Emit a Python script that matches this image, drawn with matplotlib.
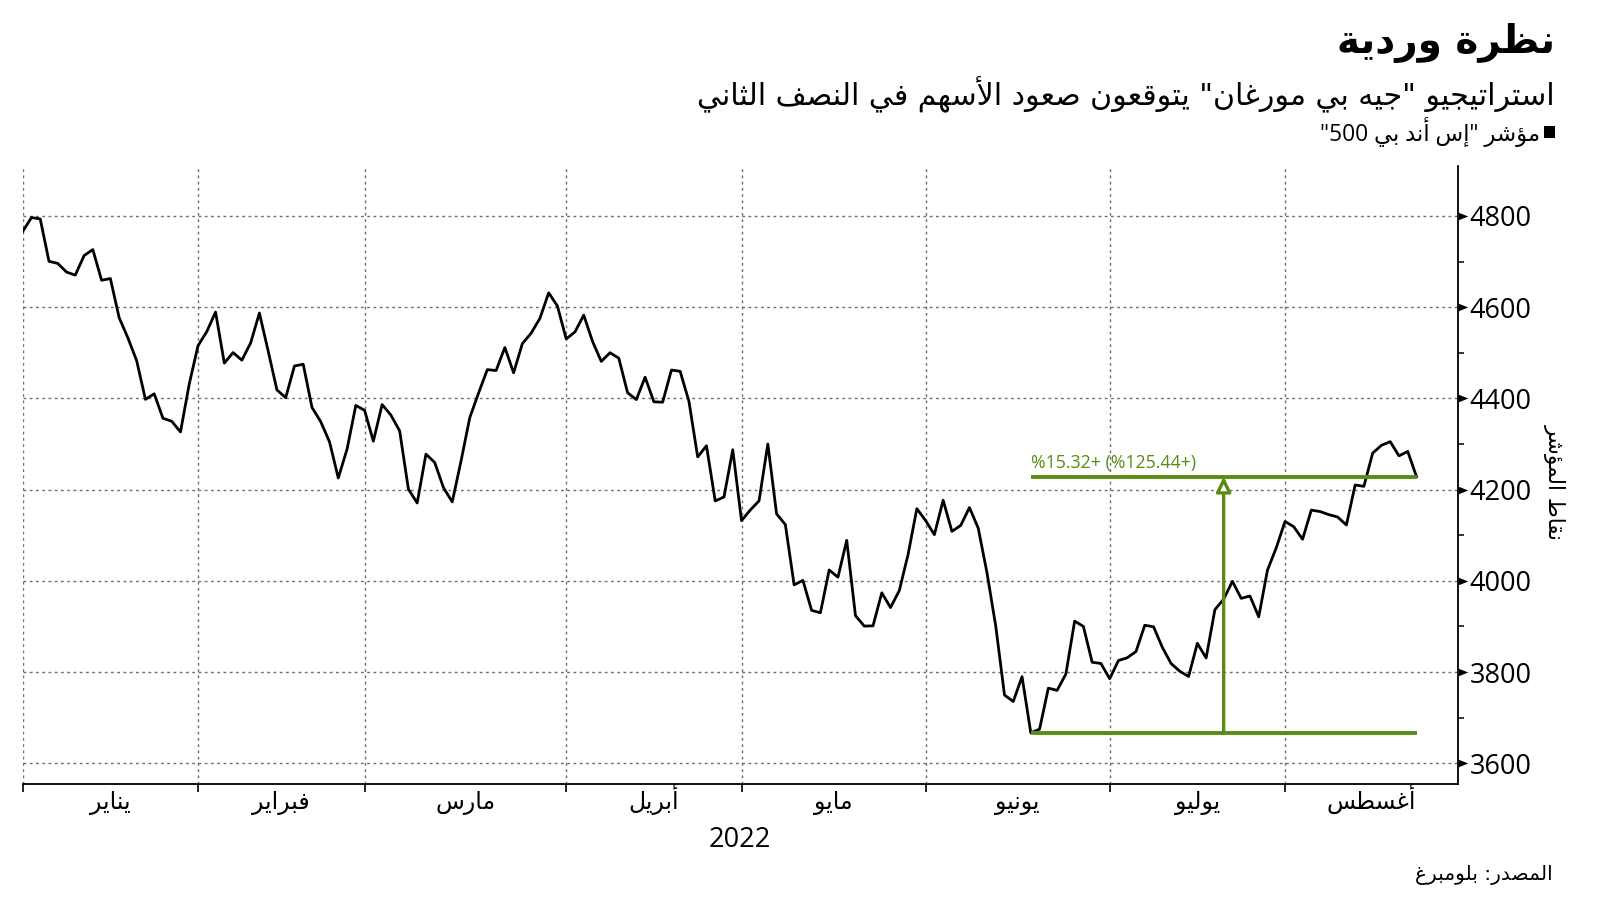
import re
import numpy as np
import matplotlib
matplotlib.use("Agg")
import matplotlib.pyplot as plt
from matplotlib.patches import Rectangle
from matplotlib.path import Path
from matplotlib.transforms import blended_transform_factory

# ---------------- data (S&P 500 daily closes) ----------------
dec_2021 = [4766.18]
jan = [4796.56, 4793.54, 4700.58, 4696.05, 4677.03, 4670.29, 4713.07, 4726.35, 4659.03, 4662.85,
       4577.11, 4532.76, 4482.73, 4397.94, 4410.13, 4356.45, 4349.93, 4326.51, 4431.85, 4515.55]
feb = [4546.54, 4589.38, 4477.44, 4500.53, 4483.87, 4521.54, 4587.18, 4504.08, 4418.64, 4401.67,
       4471.07, 4475.01, 4380.26, 4348.87, 4304.76, 4225.50, 4288.70, 4384.65, 4373.94]
mar = [4306.26, 4386.54, 4363.49, 4328.87, 4201.09, 4170.70, 4277.88, 4259.52, 4204.31, 4173.11,
       4262.45, 4357.86, 4411.67, 4463.12, 4461.18, 4511.61, 4456.24, 4520.16, 4543.06, 4575.52,
       4631.60, 4602.45, 4530.41]
apr = [4545.86, 4582.64, 4525.12, 4481.15, 4500.21, 4488.28, 4412.53, 4397.45, 4446.59, 4392.59,
       4391.69, 4462.21, 4459.45, 4393.66, 4271.78, 4296.12, 4175.20, 4183.96, 4287.50, 4131.93]
may = [4155.38, 4175.48, 4300.17, 4146.87, 4123.34, 3991.24, 4001.05, 3935.18, 3930.08, 4023.89,
       4008.01, 4088.85, 3923.68, 3900.79, 3901.36, 3973.75, 3941.48, 3978.73, 4057.84, 4158.24,
       4132.15]
jun = [4101.23, 4176.82, 4108.54, 4121.43, 4160.68, 4115.77, 4017.82, 3900.86, 3749.63, 3735.48,
       3789.99, 3666.77, 3674.84, 3764.79, 3759.89, 3795.73, 3911.74, 3900.11, 3821.55, 3818.83,
       3785.38]
jul = [3825.33, 3831.39, 3845.08, 3902.62, 3899.38, 3854.43, 3818.80, 3801.78, 3790.38, 3863.16,
       3830.85, 3936.69, 3959.90, 3998.95, 3961.63, 3966.84, 3921.05, 4023.61, 4072.43, 4130.29]
aug = [4118.63, 4091.19, 4155.17, 4151.94, 4145.19, 4140.06, 4122.47, 4210.24, 4207.27, 4280.15,
       4297.14, 4305.20, 4274.04, 4283.74, 4228.48]

month_names = ["يناير", "فبراير", "مارس", "أبريل", "مايو", "يونيو", "يوليو", "أغسطس"]
y_ticks = [3600, 3800, 4000, 4200, 4400, 4600, 4800]
y_minor = [3700, 3900, 4100, 4300, 4500, 4700]
title = "نظرة وردية"
subtitle = 'استراتيجيو "جيه بي مورغان" يتوقعون صعود الأسهم في النصف الثاني'
legend_label = 'مؤشر "إس أند بي 500"'
y_label = "نقاط المؤشر"
year_label = "2022"
source_label = "المصدر: بلومبرغ"
cumulative_label = "%125.44+"

# ---------------- Arabic shaping (matplotlib has no complex text layout) ----------------
ARABIC = {
    0x0621: (0xFE80, None, None, None), 0x0622: (0xFE81, 0xFE82, None, None),
    0x0623: (0xFE83, 0xFE84, None, None), 0x0624: (0xFE85, 0xFE86, None, None),
    0x0625: (0xFE87, 0xFE88, None, None), 0x0626: (0xFE89, 0xFE8A, 0xFE8B, 0xFE8C),
    0x0627: (0xFE8D, 0xFE8E, None, None), 0x0628: (0xFE8F, 0xFE90, 0xFE91, 0xFE92),
    0x0629: (0xFE93, 0xFE94, None, None), 0x062A: (0xFE95, 0xFE96, 0xFE97, 0xFE98),
    0x062B: (0xFE99, 0xFE9A, 0xFE9B, 0xFE9C), 0x062C: (0xFE9D, 0xFE9E, 0xFE9F, 0xFEA0),
    0x062D: (0xFEA1, 0xFEA2, 0xFEA3, 0xFEA4), 0x062E: (0xFEA5, 0xFEA6, 0xFEA7, 0xFEA8),
    0x062F: (0xFEA9, 0xFEAA, None, None), 0x0630: (0xFEAB, 0xFEAC, None, None),
    0x0631: (0xFEAD, 0xFEAE, None, None), 0x0632: (0xFEAF, 0xFEB0, None, None),
    0x0633: (0xFEB1, 0xFEB2, 0xFEB3, 0xFEB4), 0x0634: (0xFEB5, 0xFEB6, 0xFEB7, 0xFEB8),
    0x0635: (0xFEB9, 0xFEBA, 0xFEBB, 0xFEBC), 0x0636: (0xFEBD, 0xFEBE, 0xFEBF, 0xFEC0),
    0x0637: (0xFEC1, 0xFEC2, 0xFEC3, 0xFEC4), 0x0638: (0xFEC5, 0xFEC6, 0xFEC7, 0xFEC8),
    0x0639: (0xFEC9, 0xFECA, 0xFECB, 0xFECC), 0x063A: (0xFECD, 0xFECE, 0xFECF, 0xFED0),
    0x0641: (0xFED1, 0xFED2, 0xFED3, 0xFED4), 0x0642: (0xFED5, 0xFED6, 0xFED7, 0xFED8),
    0x0643: (0xFED9, 0xFEDA, 0xFEDB, 0xFEDC), 0x0644: (0xFEDD, 0xFEDE, 0xFEDF, 0xFEE0),
    0x0645: (0xFEE1, 0xFEE2, 0xFEE3, 0xFEE4), 0x0646: (0xFEE5, 0xFEE6, 0xFEE7, 0xFEE8),
    0x0647: (0xFEE9, 0xFEEA, 0xFEEB, 0xFEEC), 0x0648: (0xFEED, 0xFEEE, None, None),
    0x0649: (0xFEEF, 0xFEF0, None, None), 0x064A: (0xFEF1, 0xFEF2, 0xFEF3, 0xFEF4),
}
LAM_ALEF = {0x0622: (0xFEF5, 0xFEF6), 0x0623: (0xFEF7, 0xFEF8),
            0x0625: (0xFEF9, 0xFEFA), 0x0627: (0xFEFB, 0xFEFC)}


def _joins_next(cp):
    return cp in ARABIC and ARABIC[cp][2] is not None


def _joins_prev(cp):
    return cp in ARABIC and ARABIC[cp][1] is not None


def shape(s):
    cps = [ord(c) for c in s]
    out, i, n = [], 0, len(cps)
    while i < n:
        cp = cps[i]
        if cp not in ARABIC:
            out.append(chr(cp)); i += 1; continue
        prev = cps[i - 1] if i > 0 else None
        jp = prev is not None and _joins_next(prev) and _joins_prev(cp)
        if cp == 0x0644 and i + 1 < n and cps[i + 1] in LAM_ALEF:
            iso, fin = LAM_ALEF[cps[i + 1]]
            out.append(chr(fin if jp else iso)); i += 2; continue
        nxt = cps[i + 1] if i + 1 < n else None
        jn = _joins_next(cp) and nxt is not None and _joins_prev(nxt)
        iso, fin, ini, med = ARABIC[cp]
        g = med if (jp and jn) else fin if jp else ini if jn else iso
        out.append(chr(g)); i += 1
    return "".join(out)


def visual(s):
    rev = shape(s)[::-1]
    return re.sub(r"[0-9][0-9.,]*", lambda m: m.group(0)[::-1], rev)


# ---------------- figure ----------------
AR = ["DejaVu Sans"]
NUM = ["Open Sans", "DejaVu Sans"]
GREEN = "#5b8c12"
GRID = "#6e6e6e"

months_data = [dec_2021, jan, feb, mar, apr, may, jun, jul, aug]
values = np.concatenate([np.asarray(m, float) for m in months_data])
x = np.arange(len(values))
bounds = np.cumsum([len(m) for m in months_data])[:-1] - 1   # last trading day of each month
xmax = len(values) - 1 + 4.7
ymin, ymax = 3554.6, 4909.6

fig = plt.figure(figsize=(16, 9.01), dpi=100)
fig.patch.set_facecolor("white")
ax = fig.add_axes([0.01419, 0.12986, 0.89688, 0.6859])
ax.set_xlim(0, xmax)
ax.set_ylim(ymin, ymax)

for b in bounds:
    ax.axvline(b, color=GRID, lw=1.0, ls=(0, (2, 2.5)), zorder=0)
for yv in y_ticks:
    ax.axhline(yv, color=GRID, lw=1.0, ls=(0, (2, 2.5)), zorder=0)

ax.plot(x, values, color="black", lw=2.0, zorder=3)

# annotation: low -> latest
lo_i = int(np.argmin(values))
last_i = len(values) - 1
lo_v, last_v = values[lo_i], values[last_i]
mid_i = (lo_i + last_i) / 2
ax.hlines([lo_v, last_v], lo_i, last_i, color=GREEN, lw=2.8, zorder=4)
ax.annotate("", xy=(mid_i, last_v), xytext=(mid_i, lo_v),
            arrowprops=dict(arrowstyle="-|>,head_length=0.45,head_width=0.22",
                            mutation_scale=20, lw=2.4, ec=GREEN, fc="white",
                            shrinkA=0, shrinkB=0), zorder=5)
pct = (last_v / lo_v - 1) * 100
ax.annotate(f"%{pct:.2f}+ ({cumulative_label})", xy=(lo_i, last_v), xytext=(0, 3),
            textcoords="offset points", ha="left", va="bottom", color=GREEN,
            fontsize=12.8, family=NUM, zorder=6)

# spines
for s in ("left", "top"):
    ax.spines[s].set_visible(False)
for s in ("bottom", "right"):
    ax.spines[s].set_color("black")
    ax.spines[s].set_linewidth(1.3)

# y axis (right)
ax.yaxis.tick_right()
ax.set_yticks(y_ticks)
ax.set_yticklabels([str(v) for v in y_ticks], family=NUM, fontsize=19.5)
ax.set_yticks(y_minor, minor=True)
ax.tick_params(axis="y", which="major", length=0, pad=8.5)
ax.tick_params(axis="y", which="minor", length=4, width=1.1, direction="out", color="black")
tri = Path([(0, -0.6), (1.5, 0), (0, 0.6), (0, -0.6)],
           [Path.MOVETO, Path.LINETO, Path.LINETO, Path.CLOSEPOLY])
ax.plot(np.ones(len(y_ticks)), y_ticks, ls="none", marker=tri, ms=14, mew=0,
        color="black", transform=ax.get_yaxis_transform(), clip_on=False, zorder=7)

# x axis
centers = [(bounds[i] + bounds[i + 1]) / 2 for i in range(len(bounds) - 1)] + [(bounds[-1] + xmax) / 2]
ax.set_xticks(bounds)
ax.set_xticklabels([""] * len(bounds))
ax.tick_params(axis="x", which="major", length=6, width=1.2, direction="out", color="black")
xb = blended_transform_factory(ax.transData, ax.transAxes)
for c, m in zip(centers, month_names):
    ax.text(c, -0.040, visual(m), transform=xb, ha="center", va="baseline",
            family=AR, fontsize=17, clip_on=False)

ax.text(0.5, -0.068, year_label, transform=ax.transAxes, ha="center", va="top",
        family=NUM, fontsize=19.5)

# titles and notes
fig.text(1555 / 1600, 1 - 43 / 901, visual(title), ha="right", va="center",
         family=AR, fontsize=28, fontweight="bold")
fig.text(1555 / 1600, 1 - 95 / 901, visual(subtitle), ha="right", va="center",
         family=AR, fontsize=21.6)
fig.text(1540 / 1600, 1 - 132 / 901, visual(legend_label), ha="right", va="center",
         family=NUM, fontsize=16.4)
fig.patches.append(Rectangle((1544 / 1600, 1 - 137.5 / 901), 11 / 1600, 11 / 901,
                             transform=fig.transFigure, facecolor="black", edgecolor="none"))
fig.text(1555 / 1600, 1 - 482 / 901, visual(y_label), ha="center", va="center",
         rotation=-90, family=AR, fontsize=15.5)
fig.text(1553 / 1600, 1 - 875 / 901, visual(source_label), ha="right", va="center",
         family=AR, fontsize=14.5)

fig.savefig("out.png", dpi=100, facecolor="white")
